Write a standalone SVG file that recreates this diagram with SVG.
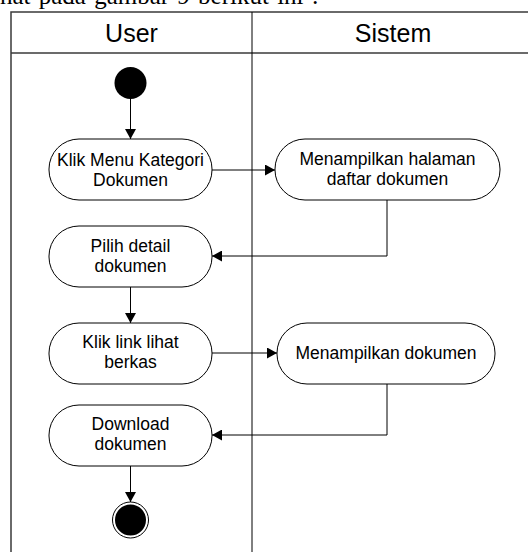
<svg xmlns="http://www.w3.org/2000/svg" width="528" height="552" viewBox="0 0 528 552">
  <style>
    .frame { fill: none; stroke: #3a3a3a; stroke-width: 1.5; }
    .lane { fill: none; stroke: #000; stroke-width: 1; }
    .node { fill: #fff; stroke: #000; stroke-width: 1; }
    .label { font-family: "Liberation Sans", Arial, sans-serif; font-size: 17.5px; fill: #000; text-anchor: middle; }
    .head { font-family: "Liberation Sans", Arial, sans-serif; font-size: 25px; fill: #000; text-anchor: middle; }
    .edge { fill: none; stroke: #000; stroke-width: 1; marker-end: url(#arrow); }
    .body { font-family: "Liberation Serif", "Times New Roman", serif; font-size: 25px; fill: #000; }
  </style>
  <defs>
    <marker id="arrow" viewBox="0 0 10 11" refX="10" refY="5.5" markerWidth="10" markerHeight="11" markerUnits="userSpaceOnUse" orient="auto">
      <path d="M0,0 L10,5.5 L0,11 Z" fill="#000"/>
    </marker>
  </defs>

  <rect width="528" height="552" fill="#fff"/>

  <!-- running document text above the figure -->
  <text class="body" x="-14" y="4" word-spacing="2">lihat pada gambar 9 berikut ini :</text>

  <!-- swimlane frame -->
  <g id="lanes">
    <path class="frame" d="M11,560 V12 H530"/>
    <line class="frame" x1="11" y1="53" x2="530" y2="53" stroke="#555"/>
    <line class="lane" x1="252" y1="12" x2="252" y2="560"/>
    <text class="head" x="131.5" y="42">User</text>
    <text class="head" x="393" y="42">Sistem</text>
  </g>

  <!-- connectors -->
  <g id="connectors">
    <line class="edge" x1="130.5" y1="99" x2="130.5" y2="139"/>
    <line class="edge" x1="212" y1="170" x2="275" y2="170"/>
    <polyline class="edge" points="387,200 387,256 212,256"/>
    <line class="edge" x1="130.5" y1="287" x2="130.5" y2="323"/>
    <line class="edge" x1="212" y1="353" x2="277" y2="353"/>
    <polyline class="edge" points="387,384 387,435 212,435"/>
    <line class="edge" x1="130.5" y1="466" x2="130.5" y2="502"/>
  </g>

  <g id="start">
    <circle cx="130.5" cy="83" r="16" fill="#000"/>
  </g>

  <g id="klik-menu">
    <rect class="node" x="49" y="139" width="163" height="61" rx="30" ry="30"/>
    <text class="label" x="130.5" y="166">Klik Menu Kategori</text>
    <text class="label" x="130.5" y="186">Dokumen</text>
  </g>

  <g id="tampil-daftar">
    <rect class="node" x="275" y="139" width="225" height="61" rx="30" ry="30"/>
    <text class="label" x="387.5" y="165">Menampilkan halaman</text>
    <text class="label" x="387.5" y="185">daftar dokumen</text>
  </g>

  <g id="pilih-detail">
    <rect class="node" x="49" y="226" width="163" height="61" rx="30" ry="30"/>
    <text class="label" x="130.5" y="252">Pilih detail</text>
    <text class="label" x="130.5" y="272">dokumen</text>
  </g>

  <g id="klik-link">
    <rect class="node" x="49" y="323" width="163" height="61" rx="30" ry="30"/>
    <text class="label" x="130.5" y="348">Klik link lihat</text>
    <text class="label" x="130.5" y="368">berkas</text>
  </g>

  <g id="tampil-dokumen">
    <rect class="node" x="277" y="323" width="218" height="61" rx="30" ry="30"/>
    <text class="label" x="386" y="359">Menampilkan dokumen</text>
  </g>

  <g id="download">
    <rect class="node" x="49" y="405" width="163" height="61" rx="30" ry="30"/>
    <text class="label" x="130.5" y="430">Download</text>
    <text class="label" x="130.5" y="450">dokumen</text>
  </g>

  <g id="end">
    <circle cx="130.5" cy="520" r="18" fill="#fff" stroke="#000" stroke-width="1"/>
    <circle cx="130.5" cy="520" r="15.5" fill="#000"/>
  </g>
</svg>
